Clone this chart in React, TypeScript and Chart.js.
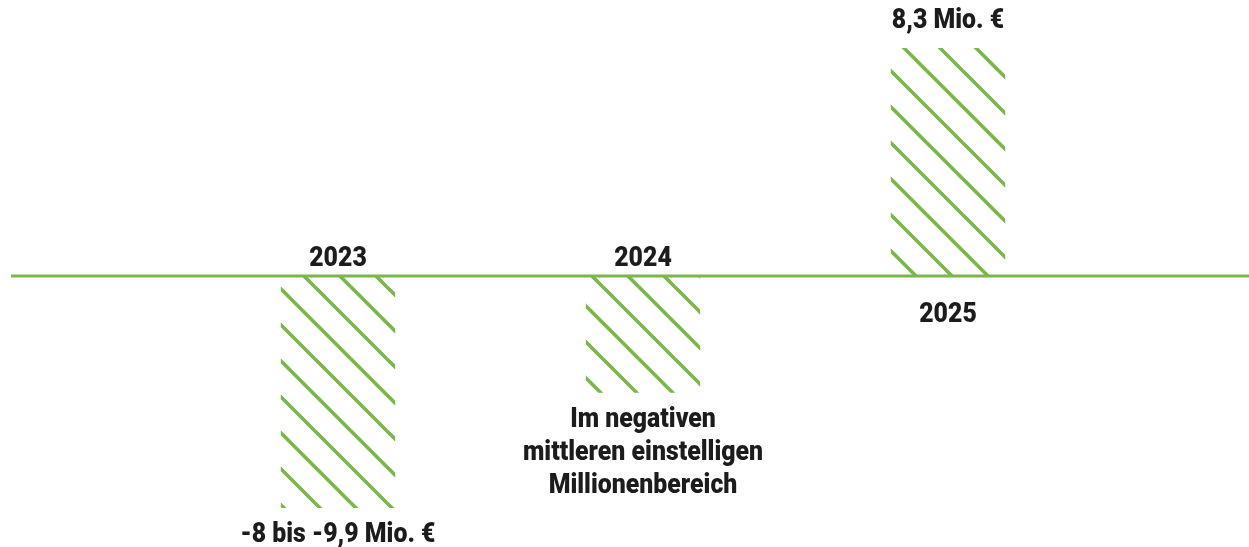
import React, { useEffect, useRef } from "react";
import { Chart, registerables } from "chart.js";

Chart.register(...registerables);

const categories = ["2023", "2024", "2025"];
const values = [-8.45, -4.25, 8.3];
const valueLabels: string[][] = [
  ["-8 bis -9,9 Mio. €"],
  ["Im negativen", "mittleren einstelligen", "Millionenbereich"],
  ["8,3 Mio. €"],
];

const GREEN = "#7ab648";
const TEXT = "#1c1c1c";
const FONT = "900 27px Roboto";
const SX = 0.92;

function makePattern(ctx: CanvasRenderingContext2D): CanvasPattern | string {
  const s = 36;
  const c = document.createElement("canvas");
  c.width = s;
  c.height = s;
  const p = c.getContext("2d");
  if (!p) return GREEN;
  p.strokeStyle = GREEN;
  p.lineWidth = 3.6;
  p.lineCap = "square";
  for (let k = -1; k <= 1; k++) {
    p.beginPath();
    p.moveTo(k * s, 0);
    p.lineTo(k * s + s, s);
    p.stroke();
  }
  const pat = ctx.createPattern(c, "repeat");
  if (!pat) return GREEN;
  try {
    pat.setTransform(new DOMMatrix().translate(28, 0));
  } catch (e) {}
  return pat;
}

const labelPlugin = {
  id: "labelPlugin",
  afterDatasetsDraw(chart: any) {
    const ctx: CanvasRenderingContext2D = chart.ctx;
    const y0 = chart.scales.y.getPixelForValue(0);
    ctx.save();
    ctx.strokeStyle = GREEN;
    ctx.lineWidth = 3;
    ctx.beginPath();
    ctx.moveTo(11, y0);
    ctx.lineTo(chart.width, y0);
    ctx.stroke();

    ctx.font = FONT;
    ctx.fillStyle = TEXT;
    ctx.textAlign = "center";
    ctx.textBaseline = "alphabetic";
    const drawText = (t: string, x: number, yb: number) => {
      ctx.save();
      ctx.translate(x, yb);
      ctx.scale(SX, 1);
      ctx.fillText(t, 0, 0);
      ctx.restore();
    };
    const meta = chart.getDatasetMeta(0);
    meta.data.forEach((bar: any, i: number) => {
      const { x, y } = bar.getProps(["x", "y"], true);
      const lines = valueLabels[i];
      if (values[i] < 0) {
        drawText(categories[i], x, y0 - 10.5);
        lines.forEach((l, j) => drawText(l, x, y + 34 + j * 33));
      } else {
        drawText(categories[i], x, y0 + 46);
        const n = lines.length;
        lines.forEach((l, j) => drawText(l, x, y - 20 - (n - 1 - j) * 33));
      }
    });
    ctx.restore();
  },
};

export default function App() {
  const ref = useRef<HTMLCanvasElement>(null);
  useEffect(() => {
    const canvas = ref.current;
    if (!canvas) return;
    const ctx = canvas.getContext("2d");
    if (!ctx) return;
    const pattern = makePattern(ctx);
    const chart = new Chart(ctx, {
      type: "bar",
      data: {
        labels: categories,
        datasets: [
          {
            data: values,
            backgroundColor: pattern as any,
            borderWidth: 0,
            barPercentage: 0.375,
            categoryPercentage: 1,
          },
        ],
      },
      options: {
        responsive: false,
        animation: false,
        layout: { padding: { left: 185.5, right: 148.5, top: 28.8, bottom: 23.8 } },
        plugins: { legend: { display: false }, tooltip: { enabled: false } },
        scales: {
          x: { display: false },
          y: { display: false, min: -9, max: 9 },
        },
      },
      plugins: [labelPlugin],
    });
    return () => chart.destroy();
  }, []);
  return (
    <div style={{ position: "absolute", left: 0, top: 0, width: 1249, height: 547, background: "#fff" }}>
      <canvas ref={ref} width={1249} height={547} />
    </div>
  );
}
